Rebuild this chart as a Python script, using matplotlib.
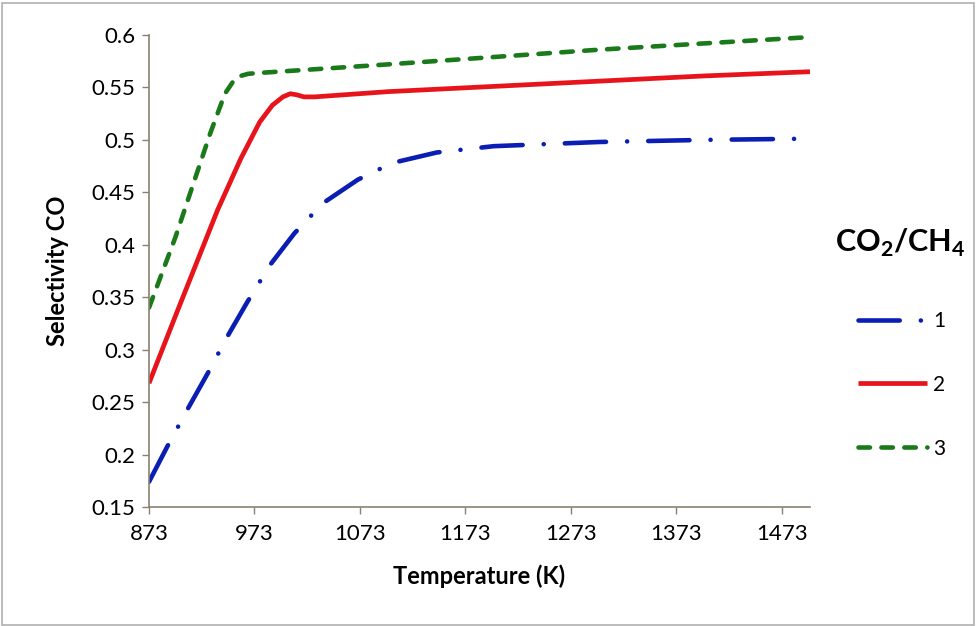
import numpy as np
import matplotlib.pyplot as plt
from matplotlib.patches import Rectangle

plt.rcParams['font.family'] = ['Lato', 'DejaVu Sans']
plt.rcParams['mathtext.fontset'] = 'custom'
plt.rcParams['mathtext.rm'] = 'Lato'
plt.rcParams['mathtext.bf'] = 'Lato:bold'

# CO2/CH4 = 1 (blue, dash-dot)
temp_1 = [873, 890, 910, 929, 947, 966, 988, 1011, 1025, 1040, 1071, 1089, 1108, 1146, 1200, 1300, 1400, 1486]
sel_1 = [0.174, 0.207, 0.244, 0.278, 0.312, 0.345, 0.381, 0.411, 0.426, 0.441, 0.462, 0.471, 0.479, 0.488,
         0.494, 0.498, 0.500, 0.501]

# CO2/CH4 = 2 (red, solid)
temp_2 = [873, 900, 938, 960, 978, 990, 1000, 1007, 1013, 1020, 1030, 1100, 1200, 1300, 1400, 1500]
sel_2 = [0.268, 0.337, 0.433, 0.482, 0.517, 0.533, 0.541, 0.544, 0.543, 0.541, 0.541, 0.546, 0.551, 0.556,
         0.561, 0.565]

# CO2/CH4 = 3 (green, dashed)
temp_3 = [873, 898, 931, 945, 953, 960, 967, 980, 1100, 1200, 1300, 1400, 1500]
sel_3 = [0.340, 0.407, 0.506, 0.544, 0.556, 0.561, 0.563, 0.564, 0.572, 0.579, 0.586, 0.592, 0.598]

x_ticks = [873, 973, 1073, 1173, 1273, 1373, 1473]
y_ticks = [0.15, 0.2, 0.25, 0.3, 0.35, 0.4, 0.45, 0.5, 0.55, 0.6]
y_labels = ['0.15', '0.2', '0.25', '0.3', '0.35', '0.4', '0.45', '0.5', '0.55', '0.6']

fig = plt.figure(figsize=(9.76, 6.26), dpi=100)
ax = fig.add_axes([149 / 976, 1 - 507 / 626, (810 - 149) / 976, (507 - 35) / 626])

ax.plot(temp_1, sel_1, color='#0a1eb4', linewidth=3.3, dashes=(9, 4.6, 0.01, 4.6),
        dash_capstyle='round', label='1')
ax.plot(temp_2, sel_2, color='#e8141c', linewidth=3.4, solid_capstyle='butt',
        solid_joinstyle='round', label='2')
ax.plot(temp_3, sel_3, color='#1a7a1a', linewidth=3.3, dashes=(2.5, 2.5),
        dash_capstyle='round', label='3')

ax.set_xlim(873, 1500)
ax.set_ylim(0.15, 0.6)
ax.set_xticks(x_ticks)
ax.set_xticklabels([str(t) for t in x_ticks])
ax.set_yticks(y_ticks)
ax.set_yticklabels(y_labels)
ax.tick_params(labelsize=16, length=5, width=1, color='#8a8070', direction='out')
ax.tick_params(axis='x', pad=7)
ax.tick_params(axis='y', pad=5)

for side in ['top', 'right']:
    ax.spines[side].set_visible(False)
for side in ['left', 'bottom']:
    ax.spines[side].set_color('#8a8070')
    ax.spines[side].set_linewidth(1.2)

ax.set_xlabel('Temperature (K)', fontsize=17, fontweight='bold', labelpad=15)
ax.set_ylabel('Selectivity CO', fontsize=17, fontweight='bold', labelpad=16)

leg = ax.legend(loc='upper left', bbox_to_anchor=(858 / 976, 1 - 311 / 626),
                bbox_transform=fig.transFigure, frameon=False, fontsize=15,
                handlelength=3.3, handletextpad=0.3, labelspacing=2.1,
                borderpad=0, borderaxespad=0)
fig.text(900 / 976, 1 - 243 / 626, 'CO$_\\mathbf{2}$/CH$_\\mathbf{4}$', fontsize=22,
         fontweight='bold', ha='center', va='center')

# thin frame around the whole chart
fig.patches.append(Rectangle((0.002, 0.002), 0.996, 0.993, transform=fig.transFigure,
                             fill=False, edgecolor='#b0b0b0', linewidth=1.2))

plt.savefig('out.png', dpi=100)
